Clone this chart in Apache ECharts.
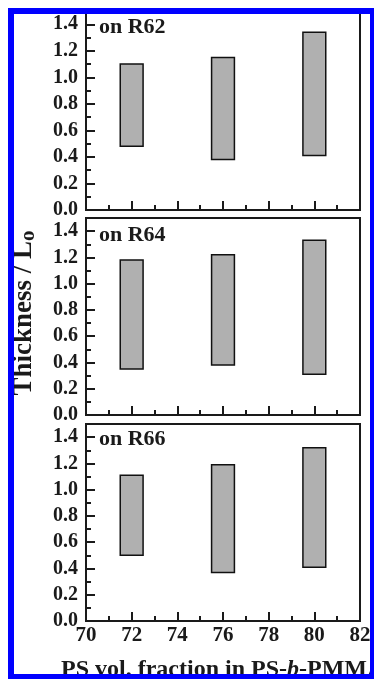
<!DOCTYPE html>
<html>
<head>
<meta charset="utf-8">
<script src="https://cdn.jsdelivr.net/npm/echarts@6/dist/echarts.min.js"></script>
<style>
html,body{margin:0;padding:0;background:#fff;}
#c{width:374px;height:679px;}
</style>
</head>
<body>
<div id="c"></div>
<script>
// ---- data ----
const xPositions = [72, 76, 80];            // PS vol. fraction (%)
const r62Low  = [0.48, 0.38, 0.41];
const r62High = [1.10, 1.15, 1.34];
const r64Low  = [0.35, 0.38, 0.31];
const r64High = [1.18, 1.22, 1.33];
const r66Low  = [0.50, 0.37, 0.41];
const r66High = [1.11, 1.19, 1.32];
const panelLabels = ['on R62', 'on R64', 'on R66'];
const xTitleParts = ['PS vol. fraction in PS-', 'b', '-PMMA'];
const yTitle = 'Thickness / L';
const yTitleSub = 'o';

const FONT = '"Liberation Serif","Times New Roman",serif';
const AX = '#1a1a1a';
const BOX_W = 1; // box width in x-axis units

const lows = [r62Low, r64Low, r66Low];
const highs = [r62High, r64High, r66High];

const grids = [
  {left: 86, right: 14, top: 11, height: 199},
  {left: 86, right: 14, top: 218, height: 197},
  {left: 86, right: 14, top: 424, height: 197}
].map(g => Object.assign(g, {show: true, borderColor: AX, borderWidth: 2, backgroundColor: 'transparent'}));

const xAxes = grids.map((g, i) => ({
  type: 'value', gridIndex: i, min: 70, max: 82, interval: 2,
  axisLine: {show: true, onZero: false, lineStyle: {color: AX, width: 2}},
  axisTick: {show: true, inside: true, length: 9, lineStyle: {color: AX, width: 2}},
  minorTick: {show: true, splitNumber: 2, length: 5, lineStyle: {color: AX, width: 2}},
  splitLine: {show: false},
  axisLabel: {show: i === 2, color: '#1a1a1a', fontFamily: FONT, fontWeight: 'bold', fontSize: 21, margin: 4}
}));

const yAxes = grids.map((g, i) => ({
  type: 'value', gridIndex: i, min: 0, max: 1.5, interval: 0.2,
  axisLine: {show: true, onZero: false, lineStyle: {color: AX, width: 2}},
  axisTick: {show: true, inside: true, length: 9, lineStyle: {color: AX, width: 2}},
  minorTick: {show: true, splitNumber: 2, length: 5, lineStyle: {color: AX, width: 2}},
  splitLine: {show: false},
  axisLabel: {
    color: '#1a1a1a', fontFamily: FONT, fontWeight: 'bold', fontSize: 20, margin: 8,
    formatter: v => (Math.abs(v * 5 - Math.round(v * 5)) < 1e-6 ? v.toFixed(1) : '')
  }
}));

const series = grids.map((g, i) => ({
  type: 'custom', xAxisIndex: i, yAxisIndex: i,
  data: xPositions.map((x, k) => [x, lows[i][k], highs[i][k]]),
  encode: {x: 0, y: [1, 2]},
  renderItem: function (params, api) {
    const x = api.value(0), lo = api.value(1), hi = api.value(2);
    const p1 = api.coord([x - BOX_W / 2, hi]);
    const p2 = api.coord([x + BOX_W / 2, lo]);
    return {
      type: 'rect',
      shape: {x: p1[0], y: p1[1], width: p2[0] - p1[0], height: p2[1] - p1[1]},
      style: {fill: '#b0b0b0', stroke: '#111', lineWidth: 1.5}
    };
  }
}));

const labelY = [27, 235, 439];
const graphic = panelLabels.map((t, i) => ({
  type: 'text', x: 99, y: labelY[i], z: 50,
  style: {text: t, fill: '#1a1a1a', font: 'bold 22px ' + FONT, textAlign: 'left', textVerticalAlign: 'middle'}
}));
graphic.push({
  type: 'text', x: 24, y: 313, rotation: Math.PI / 2, z: 50,
  style: {
    text: '{n|' + yTitle + '}{s|' + yTitleSub + '}',
    textAlign: 'center', textVerticalAlign: 'middle',
    rich: {
      n: {fill: '#1a1a1a', fontFamily: FONT, fontWeight: 'bold', fontSize: 27},
      s: {fill: '#1a1a1a', fontFamily: FONT, fontWeight: 'bold', fontSize: 21, padding: [10, 0, 0, 0]}
    }
  }
});
graphic.push({
  type: 'text', x: 61, y: 682, z: 50,
  style: {
    text: '{n|' + xTitleParts[0] + '}{i|' + xTitleParts[1] + '}{n|' + xTitleParts[2] + '}',
    textAlign: 'left', textVerticalAlign: 'bottom',
    rich: {
      n: {fill: '#1a1a1a', fontFamily: FONT, fontWeight: 'bold', fontSize: 24},
      i: {fill: '#1a1a1a', fontFamily: FONT, fontWeight: 'bold', fontStyle: 'italic', fontSize: 24}
    }
  }
});
graphic.push({
  type: 'rect', z: 100, silent: true,
  shape: {x: 11, y: 11, width: 362, height: 666},
  style: {fill: 'none', stroke: '#0000ff', lineWidth: 6}
});

const chart = echarts.init(document.getElementById('c'), null, {renderer: 'canvas'});
chart.setOption({
  animation: false,
  backgroundColor: '#fff',
  grid: grids, xAxis: xAxes, yAxis: yAxes, series: series, graphic: graphic
});
</script>
</body>
</html>
